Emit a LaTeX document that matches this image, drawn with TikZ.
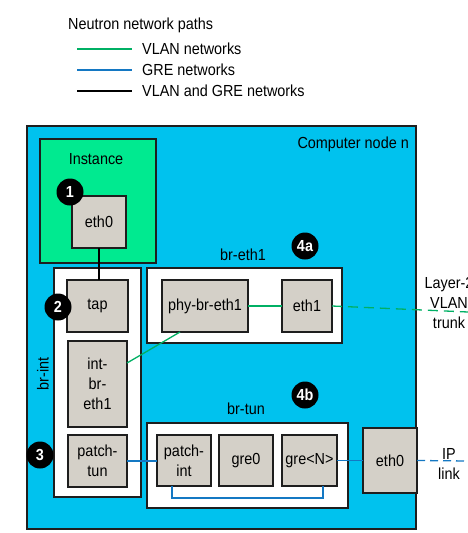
\documentclass[tikz,border=0pt]{standalone}
\usepackage{fontspec}
\setmainfont{Liberation Sans}[FakeStretch=0.9]
\definecolor{nodecyan}{RGB}{0,194,238}
\definecolor{instgreen}{RGB}{0,234,144}
\definecolor{portgray}{RGB}{212,208,200}
\definecolor{vlangreen}{RGB}{0,176,100}
\definecolor{greblue}{RGB}{20,120,195}
\definecolor{edge}{RGB}{30,30,30}
\begin{document}
\begin{tikzpicture}[x=1pt,y=-1pt,
  font=\fontsize{16}{20}\selectfont,
  container/.style={draw=edge,line width=1.6pt,inner sep=0pt,outer sep=0pt},
  port/.style={draw=edge,line width=1.5pt,fill=portgray,inner sep=0pt,outer sep=0pt,align=center},
  badge/.style={circle,fill=black,text=white,inner sep=0pt,minimum size=27pt,font=\fontsize{16}{16}\selectfont\bfseries},
  lbl/.style={inner sep=0pt,align=center},
  vlan/.style={draw=vlangreen,line width=1.3pt},
  gre/.style={draw=greblue,line width=1.3pt},
  both/.style={draw=black,line width=1.3pt}]
\useasboundingbox (0,0) rectangle (468,533);
% legend
\node[lbl,anchor=west] (ltitle) at (68,25) {Neutron network paths};
\coordinate (l1a) at (77,49); \coordinate (l1b) at (132,49);
\coordinate (l2a) at (77,70); \coordinate (l2b) at (132,70);
\coordinate (l3a) at (77,91); \coordinate (l3b) at (132,91);
\draw[vlan] (l1a) -- (l1b);
\draw[gre] (l2a) -- (l2b);
\draw[both] (l3a) -- (l3b);
\node[lbl,anchor=west] (lt1) at (142,49) {VLAN networks};
\node[lbl,anchor=west] (lt2) at (142,70) {GRE networks};
\node[lbl,anchor=west] (lt3) at (142,91) {VLAN and GRE networks};
% compute node
\node[container,fill=nodecyan,line width=2pt,minimum width=389pt,minimum height=403pt] (cnode) at (221.5,327.5) {};
\node[lbl,anchor=east] (cnodelbl) at (409,144) {Computer node n};
% instance
\node[container,fill=instgreen,minimum width=116pt,minimum height=124pt] (inst) at (98,201) {};
\node[lbl] (instlbl) at (96,159) {Instance};
\node[port,minimum width=54pt,minimum height=52pt] (ieth0) at (99,222) {eth0};
% br-int
\node[container,fill=white,minimum width=87pt,minimum height=229pt] (brint) at (97.5,382.5) {};
\node[lbl,rotate=90] (brintlbl) at (43,374) {br-int};
\node[port,minimum width=61pt,minimum height=52pt] (tap) at (97.5,306) {tap};
\node[port,minimum width=59pt,minimum height=86pt] (intbr) at (97.5,384) {int-\\br-\\eth1};
\node[port,minimum width=59pt,minimum height=52pt] (ptun) at (97.5,461) {patch-\\tun};
% br-eth1
\node[container,fill=white,minimum width=195pt,minimum height=75pt] (breth) at (244.5,305.5) {};
\node[lbl] (brethlbl) at (243,255) {br-eth1};
\node[port,minimum width=86pt,minimum height=52pt] (phy) at (205,306) {phy-br-eth1};
\node[port,minimum width=50pt,minimum height=52pt] (eth1) at (307,306) {eth1};
% br-tun
\node[container,fill=white,minimum width=201pt,minimum height=85pt] (brtun) at (247.5,465.5) {};
\node[lbl] (brtunlbl) at (246,409) {br-tun};
\node[port,minimum width=54pt,minimum height=51pt] (pint) at (184,460.5) {patch-\\int};
\node[port,minimum width=54pt,minimum height=51pt] (gre0) at (246,460.5) {gre0};
\node[port,minimum width=55pt,minimum height=51pt] (gren) at (309.5,460.5) {gre<N>};
% host eth0
\node[port,minimum width=54pt,minimum height=65pt] (heth0) at (390,460.5) {eth0};
% external labels
\node[lbl] (trunklbl) at (449,303) {Layer-2\\VLAN\\trunk};
\node[lbl] (iplbl) at (449,463.5) {IP\\link};
\coordinate (vlanend) at (468,312);
\coordinate (ipend) at (468,461);
% connectors
\draw[both] (ieth0.south) -- (ieth0.south |- tap.north);
\draw[vlan] ([yshift=21pt]intbr.east) -- ([xshift=-25pt]phy.south);
\draw[vlan] (phy.east) -- (phy.east -| eth1.west);
\draw[vlan,dash pattern=on 10pt off 6pt] (eth1.east) -- (vlanend);
\draw[gre] (ptun.east) -- (ptun.east -| pint.west);
\draw[gre] (gren.east) -- (gren.east -| heth0.west);
\draw[gre,dash pattern=on 8pt off 5pt] (heth0.east) -- (ipend);
\draw[gre] ([xshift=-12pt]pint.south) -- ++(0,12) -| ([xshift=13.5pt]gren.south);
% badges
\node[badge] (b1) at (70,192) {1};
\node[badge] (b2) at (58,307) {2};
\node[badge] (b3) at (40,455) {3};
\node[badge] (b4a) at (305,246) {4a};
\node[badge] (b4b) at (305,395) {4b};
\end{tikzpicture}
\end{document}
